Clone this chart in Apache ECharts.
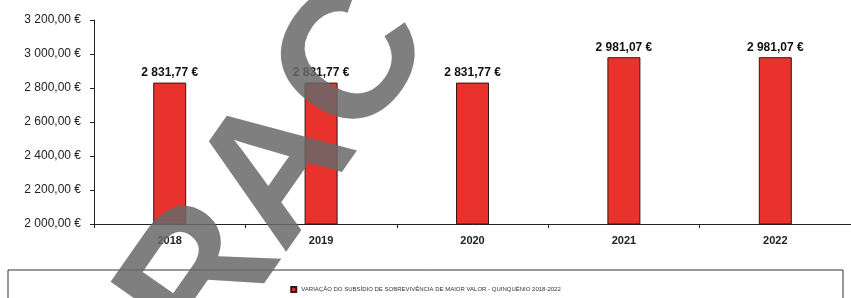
<!DOCTYPE html>
<html>
	<head>
		<meta charset="UTF-8">
		<title></title>
		<style>
			html, body { margin: 0; padding: 0; background: #fff; }
		</style>
	</head>
	<body>
		<div id="echart" style="width: 851px;height: 298px;overflow: hidden;"></div>
		<script src="https://cdn.jsdelivr.net/npm/echarts@6/dist/echarts.min.js" type="text/javascript" charset="utf-8"></script>
		<script type="text/javascript">
			var anos = ['2018', '2019', '2020', '2021', '2022'];
			var valores = [2831.77, 2831.77, 2831.77, 2981.07, 2981.07];
			var serieNome = 'VARIAÇÃO DO SUBSÍDIO DE SOBREVIVÊNCIA DE MAIOR VALOR - QUINQUÉNIO 2018-2022';
			var eixoMin = 2000, eixoMax = 3200, eixoPasso = 200;

			// formato portugues: 2 831,77 €
			function euro(v) {
				var partes = Number(v).toFixed(2).split('.');
				var inteiro = partes[0].replace(/\B(?=(\d{3})+(?!\d))/g, ' ');
				return inteiro + ',' + partes[1] + ' €';
			}

			var myChart = echarts.init(document.getElementById('echart'));
			myChart.setOption({
				animation: false,
				textStyle: { fontFamily: 'Liberation Sans' },
				grid: { left: 94, top: 20, bottom: 74, width: 766 },
				legend: {
					data: [serieNome],
					left: 'center',
					top: 281,
					itemWidth: 5,
					itemHeight: 5,
					itemGap: 4,
					icon: 'rect',
					textStyle: { fontSize: 6, color: '#333' }
				},
				xAxis: [{
					type: 'category',
					data: anos,
					boundaryGap: true,
					axisLine: { lineStyle: { color: '#222', width: 1 } },
					axisTick: { show: true, length: 4, lineStyle: { color: '#222' } },
					axisLabel: { fontSize: 11, fontWeight: 'bold', color: '#222', margin: 11 }
				}],
				yAxis: [{
					type: 'value',
					min: eixoMin,
					max: eixoMax,
					interval: eixoPasso,
					splitLine: { show: false },
					axisLine: { show: true, lineStyle: { color: '#222', width: 1 } },
					axisTick: { show: true, length: 4, lineStyle: { color: '#222' } },
					axisLabel: {
						fontSize: 12,
						color: '#222',
						margin: 13,
						formatter: function(value) { return euro(value); }
					}
				}],
				series: [{
					name: serieNome,
					type: 'bar',
					barWidth: 33,
					data: valores,
					itemStyle: { color: '#e8322b', borderColor: '#3a1512', borderWidth: 1 },
					label: {
						show: true,
						position: 'top',
						distance: 4,
						fontSize: 12,
						fontWeight: 'bold',
						color: '#111',
						formatter: function(p) { return euro(p.value); }
					}
				}],
				graphic: [
					{
						type: 'rect',
						shape: { x: 8, y: 270, width: 835, height: 40 },
						style: { fill: 'none', stroke: '#333', lineWidth: 1 },
						z: 1
					},
					{
						// marca de agua do scan
						type: 'text',
						x: 280,
						y: 172,
						rotation: 0.96,
						z: 100,
						style: {
							text: 'RAC',
							fill: 'rgba(105,105,105,0.85)',
							font: 'bold 184px "Liberation Sans"',
							textAlign: 'center',
							textVerticalAlign: 'middle'
						}
					}
				]
			});
		</script>
	</body>
</html>
